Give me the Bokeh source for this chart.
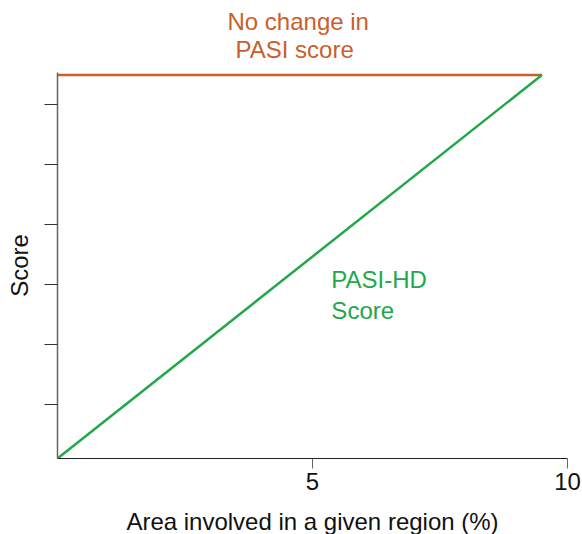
from bokeh.plotting import figure
from bokeh.models import Range1d, FixedTicker, Label, Title
from bokeh.embed import file_html
from bokeh.resources import INLINE

# data
line_x = [0, 9.5]
pasi_hd_y = [0, 64]
no_change_y = [64, 64]
x_ticks = [5, 10]
y_ticks = [9, 19, 29, 39, 49, 59]

ORANGE = "#C9602B"
GREEN = "#22A84A"
FONT = "Liberation Sans"
FS = "24px"

p = figure(width=582, height=534, output_backend="svg", toolbar_location=None,
           x_range=Range1d(0, 10), y_range=Range1d(0, 64.4),
           min_border_left=57, min_border_right=15, min_border_top=72, min_border_bottom=76,
           frame_width=510, frame_height=386)
p.outline_line_color = None
p.grid.visible = False
p.background_fill_color = "white"
p.border_fill_color = "white"

p.line(line_x, no_change_y, line_color=ORANGE, line_width=2.5)
p.line(line_x, pasi_hd_y, line_color=GREEN, line_width=2.5)

xa = p.xaxis[0]
xa.ticker = FixedTicker(ticks=x_ticks)
xa.minor_tick_line_color = None
xa.axis_line_color = "#222222"
xa.major_tick_line_color = "#666666"
xa.major_tick_out = 10
xa.major_tick_in = 0
xa.major_label_text_font = FONT
xa.major_label_text_font_size = FS
xa.major_label_text_color = "#111111"
xa.major_label_standoff = 4
xa.axis_label = "Area involved in a given region (%)"
xa.axis_label_text_font = FONT
xa.axis_label_text_font_size = FS
xa.axis_label_text_font_style = "normal"
xa.axis_label_text_color = "#111111"
xa.axis_label_standoff = 15

ya = p.yaxis[0]
ya.ticker = FixedTicker(ticks=y_ticks)
ya.minor_tick_line_color = None
ya.axis_line_color = "#666666"
ya.axis_line_width = 1.5
ya.major_tick_line_color = "#333333"
ya.major_tick_out = 13
ya.major_tick_in = 0
ya.major_label_overrides = {t: "" for t in y_ticks}
ya.major_label_standoff = 0
ya.axis_label = "Score"
ya.axis_label_text_font = FONT
ya.axis_label_text_font_size = FS
ya.axis_label_text_font_style = "normal"
ya.axis_label_text_color = "#111111"
ya.axis_label_standoff = 12

p.add_layout(Title(text="PASI score", align="left", offset=178, text_color=ORANGE,
                   text_font=FONT, text_font_size=FS, text_font_style="normal",
                   standoff=17, vertical_align="middle"), "above")
p.add_layout(Title(text="No change in", align="left", offset=170, text_color=ORANGE,
                   text_font=FONT, text_font_size=FS, text_font_style="normal",
                   standoff=-19, vertical_align="middle"), "above")

p.add_layout(Label(x=5.37, y=27.2, text="PASI-HD\nScore", text_align="left",
                   text_baseline="middle", text_color=GREEN, text_font=FONT,
                   text_font_size=FS, text_line_height=1.15))

open("out.html", "w").write(file_html(p, INLINE))
